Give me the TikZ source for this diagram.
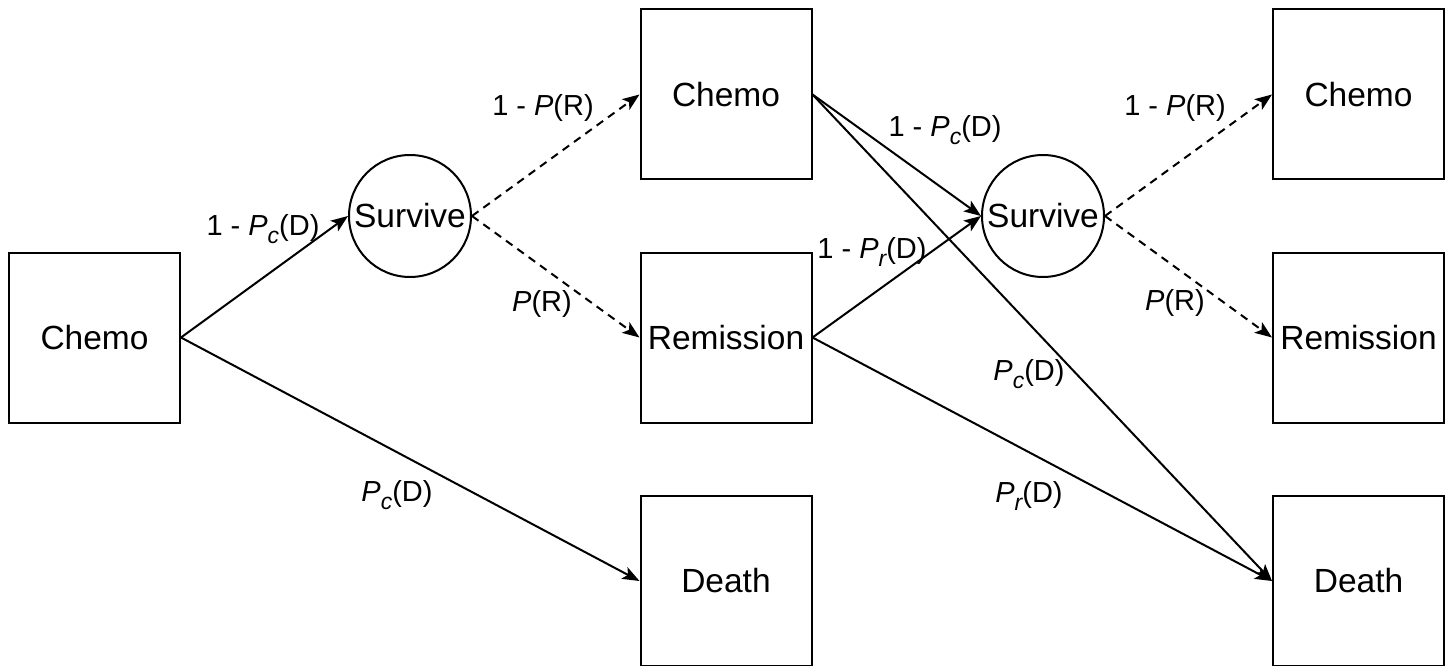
\documentclass[tikz,border=0pt]{standalone}
\usepackage{fontspec}
\setmainfont{Liberation Sans}
\usetikzlibrary{arrows.meta}
\newcommand{\Psub}[1]{\textit{P}\raisebox{-0.3em}{\fontsize{23}{23}\selectfont\itshape #1}}
\begin{document}
\begin{tikzpicture}[x=1pt,y=-1pt,
  box/.style={draw, line width=2pt, minimum width=171pt, minimum height=170pt, inner sep=0pt, font=\fontsize{33.5}{40}\selectfont},
  circ/.style={draw, circle, line width=2pt, minimum size=122pt, inner sep=0pt, font=\fontsize{33.5}{40}\selectfont},
  edge/.style={line width=2pt, -{Stealth[length=17pt,width=13pt,inset=4pt]}},
  dedge/.style={edge, dash pattern=on 8pt off 6pt},
  lbl/.style={font=\fontsize{29}{34}\selectfont, inner sep=0pt}]
\useasboundingbox (0,0) rectangle (1452,666);
\node[box] (c0) at (94.5,337.5) {Chemo};
\node[circ] (s1) at (410,216) {Survive};
\node[box] (c1) at (726,94.5) {Chemo};
\node[box] (r1) at (726,337.5) {Remission};
\node[box] (d1) at (726,581) {Death};
\node[circ] (s2) at (1043,216) {Survive};
\node[box] (c2) at (1358.5,94.5) {Chemo};
\node[box] (r2) at (1358.5,337.5) {Remission};
\node[box] (d2) at (1358.5,581) {Death};

\draw[edge] (c0.east) -- (s1.west);
\draw[edge] (c0.east) -- (d1.west);
\draw[dedge] (s1.east) -- (c1.west);
\draw[dedge] (s1.east) -- (r1.west);
\draw[edge] (c1.east) -- (s2.west);
\draw[edge] (c1.east) -- (d2.west);
\draw[edge] (r1.east) -- (s2.west);
\draw[edge] (r1.east) -- (d2.west);
\draw[dedge] (s2.east) -- (c2.west);
\draw[dedge] (s2.east) -- (r2.west);

\node[lbl] (l1) at (263,229) {1 - \Psub{c}(D)};
\node[lbl] (l2) at (397,495) {\Psub{c}(D)};
\node[lbl] (l3) at (543,108) {1 - \textit{P}(R)};
\node[lbl] (l4) at (542,304) {\textit{P}(R)};
\node[lbl] (l5) at (945,130) {1 - \Psub{c}(D)};
\node[lbl] (l6) at (872,252) {1 - \Psub{r}(D)};
\node[lbl] (l7) at (1175,108) {1 - \textit{P}(R)};
\node[lbl] (l8) at (1175,303) {\textit{P}(R)};
\node[lbl] (l9) at (1029,374) {\Psub{c}(D)};
\node[lbl] (l10) at (1029,496) {\Psub{r}(D)};
\end{tikzpicture}
\end{document}
